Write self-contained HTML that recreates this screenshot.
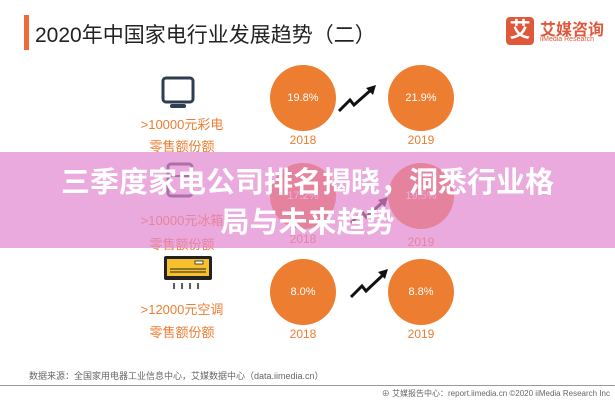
<!DOCTYPE html>
<html><head><meta charset="utf-8"><style>
body{margin:0;width:615px;height:400px;background:#fff;position:relative;overflow:hidden;font-family:"Liberation Sans","Noto Sans CJK SC",sans-serif}
.a{position:absolute;white-space:nowrap}
.c{position:absolute;width:66px;height:66px;border-radius:50%;background:#ed7d31;color:#fff;font-size:11px;display:flex;align-items:center;justify-content:center}
.lab{position:absolute;color:#ed7d31;font-size:13px;text-align:center;width:100px}
.yr{position:absolute;color:#ed7d31;font-size:12px;width:60px;text-align:center}
</style></head><body>
<div class="a" style="left:24px;top:15px;width:5px;height:35px;background:#ed6a3a"></div>
<div class="a" style="left:35px;top:19px;font-size:21px;color:#222">2020年中国家电行业发展趋势（二）</div>
<div class="a" style="left:506px;top:17px;width:28px;height:28px;background:#e0583a;border-radius:4px;color:#fff;font-size:21px;font-weight:bold;line-height:28px;text-align:center">艾</div>
<div class="a" style="left:540px;top:16px;font-size:16px;font-weight:bold;color:#e0583a">艾媒咨询</div>
<div class="a" style="left:540px;top:36px;font-size:7px;color:#e0583a">iiMedia Research</div>

<!-- row1 -->
<svg class="a" style="left:160px;top:76px" width="40" height="34"><rect x="3" y="2" width="30" height="24" rx="3" fill="none" stroke="#2d3e50" stroke-width="3"/><rect x="10" y="28" width="16" height="4" rx="2" fill="#2d3e50"/></svg>
<div class="lab" style="left:132px;top:114px">&gt;10000元彩电</div>
<div class="lab" style="left:132px;top:136px">零售额份额</div>
<div class="c" style="left:270px;top:65px">19.8%</div>
<div class="c" style="left:388px;top:65px">21.9%</div>
<div class="yr" style="left:273px;top:133px">2018</div>
<div class="yr" style="left:391px;top:133px">2019</div>
<svg class="a" style="left:336px;top:84px" width="44" height="30"><polyline points="3,27 14,16 18,21 36,5" fill="none" stroke="#111" stroke-width="3"/><polygon points="40,1 30,4 37,11" fill="#111"/></svg>

<!-- row2 -->
<svg class="a" style="left:165px;top:162px" width="32" height="40"><rect x="3" y="2" width="24" height="32" rx="3" fill="none" stroke="#2d3e50" stroke-width="3"/><line x1="3" y1="14" x2="27" y2="14" stroke="#2d3e50" stroke-width="2"/></svg>
<div class="lab" style="left:132px;top:210px">&gt;10000元冰箱</div>
<div class="lab" style="left:132px;top:234px">零售额份额</div>
<div class="c" style="left:270px;top:163px">17.2%</div>
<div class="c" style="left:388px;top:163px">19.5%</div>
<div class="yr" style="left:273px;top:232px">2018</div>
<div class="yr" style="left:391px;top:235px">2019</div>
<svg class="a" style="left:348px;top:196px" width="44" height="30"><polyline points="3,27 14,16 18,21 36,5" fill="none" stroke="#111" stroke-width="3"/><polygon points="40,1 30,4 37,11" fill="#111"/></svg>

<div class="a" style="left:0;top:152px;width:615px;height:96px;background:rgba(225,134,207,0.7)"></div>
<div class="a" style="left:0;top:163px;width:615px;text-align:center;color:#fff;font-size:29px;font-weight:bold;line-height:40px;white-space:normal;padding:0 50px;box-sizing:border-box">三季度家电公司排名揭晓，洞悉行业格局与未来趋势</div>

<!-- row3 -->
<svg class="a" style="left:162px;top:254px" width="52" height="36"><rect x="2" y="2" width="48" height="24" rx="2" fill="#222"/><rect x="5" y="5" width="42" height="17" fill="#f6c12d"/><line x1="8" y1="15" x2="44" y2="15" stroke="#222"/><line x1="8" y1="18" x2="44" y2="18" stroke="#222"/><rect x="33" y="7" width="8" height="3" fill="#fff" stroke="#222" stroke-width=".8"/><g stroke="#222" stroke-width="1.5"><line x1="12" y1="29" x2="12" y2="35"/><line x1="20" y1="29" x2="20" y2="35"/><line x1="28" y1="29" x2="28" y2="35"/><line x1="36" y1="29" x2="36" y2="35"/></g></svg>
<div class="lab" style="left:132px;top:299px">&gt;12000元空调</div>
<div class="lab" style="left:132px;top:322px">零售额份额</div>
<div class="c" style="left:270px;top:259px">8.0%</div>
<div class="c" style="left:388px;top:259px">8.8%</div>
<div class="yr" style="left:273px;top:327px">2018</div>
<div class="yr" style="left:391px;top:327px">2019</div>
<svg class="a" style="left:348px;top:268px" width="44" height="32"><polyline points="3,29 14,18 18,23 36,6" fill="none" stroke="#111" stroke-width="3"/><polygon points="40,1 30,4 37,11" fill="#111"/></svg>

<div class="a" style="left:29px;top:369px;font-size:9px;color:#666">数据来源：全国家用电器工业信息中心，艾媒数据中心（data.iimedia.cn）</div>
<div class="a" style="left:0;top:385px;width:615px;height:1px;background:#999"></div>
<div class="a" style="right:5px;top:388px;font-size:8px;color:#666">⊕ 艾媒报告中心：report.iimedia.cn  ©2020  iiMedia Research Inc</div>
</body></html>
